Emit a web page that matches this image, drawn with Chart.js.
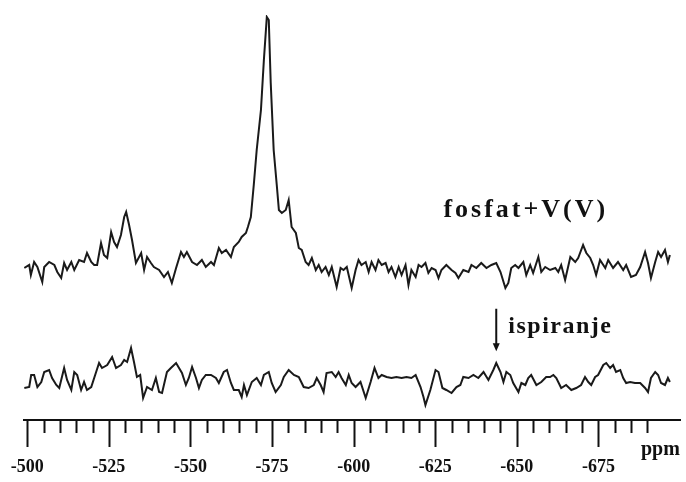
<!DOCTYPE html>
<html>
<head>
<meta charset="utf-8">
<script src="https://cdn.jsdelivr.net/npm/chart.js@4.4.1/dist/chart.umd.min.js"></script>
<style>
html,body{margin:0;padding:0;background:#fff;}
#wrap{width:686px;height:482px;position:relative;}
</style>
</head>
<body>
<div id="wrap"><canvas id="chartSpektar"></canvas></div>
<script>
// gornji spektar: fosfat+V(V)
var ppmGore=[-499.1,-500.6,-501.1,-502.1,-503.1,-504.6,-505.2,-506.7,-508.3,-509.2,-510.4,-511.3,-512.2,-513.5,-514.4,-515.9,-517.4,-518.3,-519.6,-520.5,-521.4,-522.6,-523.5,-524.5,-525.7,-526.6,-527.5,-528.7,-529.7,-530.3,-531.2,-532.1,-533.3,-534.9,-535.8,-536.7,-537.9,-538.8,-540.4,-541.9,-543.1,-544.3,-545.6,-547.1,-548.0,-548.9,-550.5,-552.0,-553.5,-554.7,-556.3,-557.2,-558.7,-559.6,-560.9,-562.4,-563.3,-564.8,-565.7,-567.0,-567.6,-568.5,-569.4,-570.3,-571.6,-572.5,-573.4,-574.0,-574.6,-575.5,-576.5,-577.1,-578.0,-579.2,-580.1,-581.0,-582.3,-583.2,-584.1,-585.3,-586.2,-587.2,-588.4,-589.3,-590.2,-591.4,-592.4,-593.3,-594.8,-596.0,-596.9,-597.9,-599.4,-600.6,-601.5,-602.4,-603.7,-604.6,-605.5,-606.7,-607.6,-608.6,-609.8,-610.7,-611.6,-612.8,-613.8,-614.7,-615.9,-616.8,-617.7,-619.0,-619.9,-620.8,-622.0,-622.9,-623.9,-625.1,-626.0,-626.9,-628.4,-630.0,-631.2,-632.1,-633.6,-635.2,-636.1,-637.6,-639.1,-640.7,-642.2,-643.7,-645.0,-646.5,-647.4,-648.3,-649.5,-650.5,-652.0,-652.9,-654.1,-655.0,-656.6,-657.5,-658.7,-660.2,-661.8,-662.7,-663.6,-664.8,-666.4,-667.9,-668.8,-670.3,-671.3,-672.5,-673.4,-674.3,-675.5,-677.1,-678.0,-679.5,-681.0,-682.6,-683.5,-685.0,-686.5,-687.8,-689.3,-690.2,-691.1,-692.4,-693.3,-694.2,-695.4,-696.3,-696.9];
var intGore=[0,1.2,-2.8,2.4,0.4,-5.6,0.4,2.4,1.2,-1.6,-4,2,-0.8,2.4,-0.8,3.2,2.4,6,2.4,1.2,1.2,10,5.2,4,14.4,10.4,8.4,13.2,20.4,22.4,17.2,11.2,2,6,-0.8,4.4,2,0.4,-0.8,-3.6,-1.6,-6,0,6.4,4.4,6.4,2.4,1.2,3.2,0.4,2.4,1.2,8,6,7.2,4.4,8.4,10.4,12.4,14,16.4,20.4,33.2,47.2,63.2,83.2,100.4,99.2,74,47.2,32.4,23.2,22,23.2,27.2,16.4,14,8,7.2,2.4,1.2,4,-0.8,1.2,-1.6,0.4,-2.8,0.4,-7.6,0,-0.8,0.4,-8,-0.8,3.2,1.2,2.4,-1.6,2.4,-0.8,3.2,1.2,2,-1.6,0.4,-3.6,0.4,-2.8,1.2,-6.8,-0.8,-3.6,1.2,0.4,2,-2,0,-0.8,-4,-0.8,1.2,-0.8,-2,-4,-0.8,-1.6,1.2,0,2,0,1.2,2,-1.6,-8,-6,0,1.2,0,2.4,-2.8,1.2,-2,4.4,-1.6,0.4,-0.8,0,-1.6,1.2,-4.8,4.4,2.4,4,9.2,6,4,1.2,-2.8,3.2,0,3.2,0,2.4,-0.8,1.2,-3.6,-2.8,0.4,6.4,2,-4,2.4,6.4,4.4,7.2,2.4,5.2];

// donji spektar: nakon ispiranja
var ppmDolje=[-499.1,-500.6,-501.2,-502.1,-503.1,-504.3,-505.2,-506.7,-507.6,-508.9,-509.8,-511.3,-512.2,-513.5,-514.4,-515.3,-516.5,-517.4,-518.3,-519.6,-521.1,-522.0,-522.9,-524.5,-526.0,-527.2,-528.7,-529.7,-530.6,-531.8,-532.7,-533.6,-534.6,-535.5,-536.7,-538.2,-539.4,-540.4,-541.3,-542.8,-544.0,-545.6,-546.5,-547.4,-548.6,-549.5,-550.5,-551.7,-552.6,-553.5,-554.7,-556.3,-557.8,-558.7,-560.2,-561.2,-562.4,-563.3,-564.8,-565.7,-566.4,-567.3,-568.8,-570.3,-571.6,-572.5,-574.0,-574.9,-576.1,-577.7,-578.6,-580.1,-581.7,-583.2,-584.7,-586.2,-587.8,-588.7,-589.9,-590.8,-591.7,-593.3,-594.5,-595.4,-596.3,-597.6,-598.5,-599.4,-600.6,-602.1,-603.7,-605.2,-606.4,-607.6,-608.6,-610.1,-611.6,-613.1,-614.7,-616.2,-617.7,-619.0,-620.5,-621.4,-622.0,-623.5,-625.1,-626.0,-627.2,-628.4,-630.0,-631.5,-632.7,-633.6,-635.2,-636.7,-638.2,-639.8,-641.3,-642.8,-643.7,-645.0,-645.9,-646.8,-648.0,-648.9,-650.5,-651.4,-652.6,-653.5,-654.4,-656.0,-657.5,-659.0,-660.2,-661.2,-662.1,-663.6,-665.1,-666.7,-668.2,-669.7,-670.9,-671.9,-672.8,-674.0,-674.9,-676.5,-677.4,-678.6,-679.5,-680.4,-681.7,-682.6,-683.5,-684.7,-686.2,-687.8,-689.3,-690.2,-691.1,-692.4,-693.3,-694.2,-695.4,-696.3,-696.9];
var intDolje=[-3.2,-2.8,2,2,-2.8,-0.8,3.2,4,0.8,-2,-3.2,4.8,0,-4,3.2,2,-4,-0.8,-4,-2.8,3.2,6.8,4.8,6,9.2,4.8,6,8,7.2,12.8,7.2,1.2,2,-7.2,-2.8,-4,0.8,-4.8,-5.2,3.2,4.8,6.8,4.8,2.8,-2,0.8,5.2,0.8,-3.2,0,2,2,0.8,-1.2,3.2,4,-1.2,-4,-4,-6.8,-2,-6,-0.8,0.8,-2,2,3.2,-1.2,-4.8,-2,1.2,4,2,1.2,-2.8,-3.2,-2,0.8,-2,-4.8,2.8,3.2,1.2,3.2,0.8,-2,2,-1.2,-2.8,-0.8,-7.2,-0.8,4.8,0.8,2,1.2,0.8,1.2,0.8,1.2,0.8,2,-2.8,-6.8,-10,-4,4,3.2,-3.2,-4,-5.2,-2.8,-2,1.2,0.8,2,0.8,3.2,0,4,6.8,3.2,-0.8,3.2,2,-1.2,-4.8,-1.2,-2,0.8,2,-2,-0.8,1.2,1.2,2,0.8,-3.2,-2,-4,-3.2,-2,1.2,-0.8,-2,1.2,2,6,6.8,4.8,6,3.2,4,0.8,-1.2,-0.8,-1.2,-1.2,-3.2,-4.8,0.8,3.2,2,-1.2,-2,0.8,-0.8];

var pomakGore=60.8, pomakDolje=16;   // vertikalni razmak spektara
var oznakeOsi=[-500,-525,-550,-575,-600,-625,-650,-675];

function tocke(ppm,vr,pomak){
	return ppm.map(function(p,i){ return {x:p,y:vr[i]+pomak}; });
}

var crtanjeOsi={
	id:'crtanjeOsi',
	afterDraw:function(chart){
		var ctx=chart.ctx, sx=chart.scales.x, sy=chart.scales.y;
		var dno=chart.chartArea.bottom;
		ctx.save();
		ctx.strokeStyle='#111';
		ctx.lineWidth=2;
		for(var v=-500; v>=-690; v-=5){
			var px=Math.round(sx.getPixelForValue(v))+0.5;
			var duz=(v%25===0)?27:13;
			ctx.beginPath();ctx.moveTo(px,dno);ctx.lineTo(px,dno+duz);ctx.stroke();
		}
		ctx.fillStyle='#111';
		ctx.font='bold 20px "Liberation Serif", serif';
		ctx.textAlign='center';ctx.textBaseline='middle';
		ctx.fillText('ppm',sx.getPixelForValue(-694),dno+30);
		// natpisi
		ctx.textAlign='left';
		ctx.font='bold 26px "Liberation Serif", serif';
		ctx.letterSpacing='3px';
		ctx.fillText('fosfat+V(V)',sx.getPixelForValue(-627.5),sy.getPixelForValue(84));
		ctx.font='bold 24px "Liberation Serif", serif';
		ctx.letterSpacing='1.5px';
		ctx.fillText('ispiranje',sx.getPixelForValue(-647.4),sy.getPixelForValue(37.2));
		ctx.letterSpacing='0px';
		// strelica
		var ax=sx.getPixelForValue(-643.7), y1=sy.getPixelForValue(44.5), y2=sy.getPixelForValue(27.5);
		ctx.lineWidth=2;
		ctx.beginPath();ctx.moveTo(ax,y1);ctx.lineTo(ax,y2-6);ctx.stroke();
		ctx.beginPath();ctx.moveTo(ax-3.5,y2-8);ctx.lineTo(ax+3.5,y2-8);ctx.lineTo(ax,y2);ctx.closePath();ctx.fill();
		ctx.restore();
	}
};

new Chart(document.getElementById("chartSpektar"),{
	type:'line',
	data:{
		datasets:[
			{label:'fosfat+V(V)',data:tocke(ppmGore,intGore,pomakGore),borderColor:'#1a1a1a',borderWidth:2,pointRadius:0,tension:0},
			{label:'ispiranje',data:tocke(ppmDolje,intDolje,pomakDolje),borderColor:'#1a1a1a',borderWidth:2,pointRadius:0,tension:0}
		]
	},
	options:{
		responsive:true,
		maintainAspectRatio:false,
		animation:false,
		layout:{padding:{left:24,right:6,top:15,bottom:0}},
		plugins:{legend:{display:false},tooltip:{enabled:false}},
		scales:{
			x:{
				type:'linear',
				min:-700,max:-499,
				reverse:true,
				grid:{display:true,drawOnChartArea:false,drawTicks:true,tickLength:27,tickColor:'transparent'},
				border:{display:true,color:'#111',width:2},
				afterBuildTicks:function(axis){
					axis.ticks=oznakeOsi.map(function(v){return {value:v};});
				},
				afterFit:function(axis){ axis.height=62; },
				ticks:{
					autoSkip:false,maxRotation:0,padding:10,color:'#111',
					font:{family:'"Liberation Serif", serif',size:18,weight:'bold'},
					callback:function(v){return v;}
				}
			},
			y:{display:false,min:0,max:162}
		}
	},
	plugins:[crtanjeOsi]
});
</script>
</body>
</html>
